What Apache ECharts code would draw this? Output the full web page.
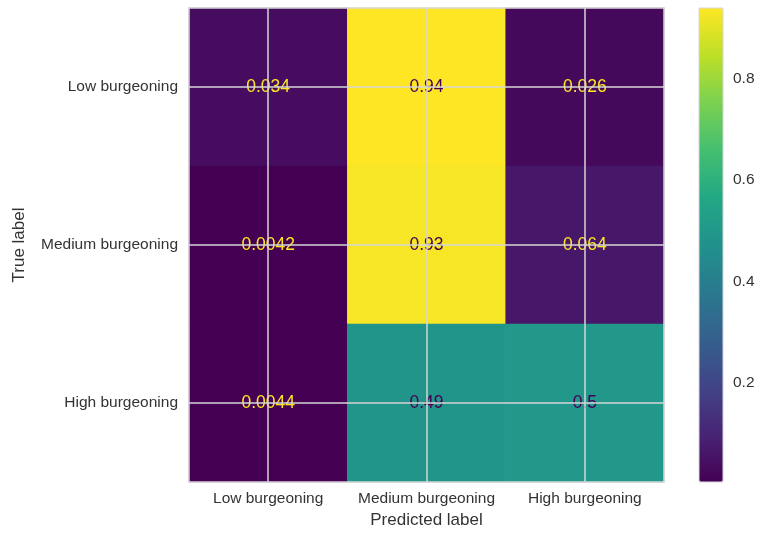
<!DOCTYPE html>
<html>
<head>
<meta charset="utf-8">
<title>Confusion matrix</title>
<script src="https://cdn.jsdelivr.net/npm/echarts@6/dist/echarts.min.js"></script>
<style>
  html, body { margin: 0; padding: 0; background: #ffffff; }
  #chart { width: 760px; height: 533px; }
</style>
</head>
<body>
<div id="chart"></div>
<script>
// Class names (predicted along x, true along y)
const classes = ['Low burgeoning', 'Medium burgeoning', 'High burgeoning'];

// Normalised confusion matrix, one array per true class
const rowLow    = [0.034, 0.94, 0.026];
const rowMedium = [0.0042, 0.93, 0.064];
const rowHigh   = [0.0044, 0.49, 0.5];

// Colour bar tick labels
const colorbarTicks = [0.2, 0.4, 0.6, 0.8];

// viridis colour map
const viridis = ['#440154', '#482475', '#414487', '#355f8d', '#2a788e',
                 '#21918c', '#22a884', '#44bf70', '#7ad151', '#bddf26', '#fde725'];

const rows = [rowLow, rowMedium, rowHigh];
const allValues = rows.flat();
const vMin = Math.min(...allValues);
const vMax = Math.max(...allValues);
const threshold = (vMin + vMax) / 2;

const fontFamily = '"Liberation Sans", Arial, Helvetica, sans-serif';

// light text on dark cells, dark text on bright cells
const cells = [];
rows.forEach((row, r) => {
  row.forEach((v, c) => {
    cells.push({
      value: [c, r, v],
      label: { color: v < threshold ? viridis[viridis.length - 1] : viridis[0] }
    });
  });
});

const chart = echarts.init(document.getElementById('chart'), null, { renderer: 'canvas' });

const gridColor = '#d6d6d6';
const textColor = '#333333';

chart.setOption({
  animation: false,
  backgroundColor: '#ffffff',
  textStyle: { fontFamily: fontFamily },
  grid: [
    { left: 189, top: 8, width: 475, height: 474, show: true, z: 5,
      outerBoundsMode: 'none', containLabel: false,
      backgroundColor: 'transparent', borderColor: gridColor, borderWidth: 1.5 },
    { left: 699, top: 8, width: 24, height: 474, show: true, z: 5,
      outerBoundsMode: 'none', containLabel: false,
      backgroundColor: 'transparent', borderColor: gridColor, borderWidth: 1 }
  ],
  xAxis: [
    {
      type: 'category', gridIndex: 0, data: classes,
      name: 'Predicted label', nameLocation: 'middle', nameGap: 30,
      nameTextStyle: { fontSize: 17, color: textColor, fontFamily: fontFamily },
      axisLine: { show: false }, axisTick: { show: false }, splitLine: { show: false },
      axisLabel: { interval: 0, hideOverlap: false, fontSize: 15.5, color: textColor,
                   margin: 9, fontFamily: fontFamily }
    },
    {
      type: 'value', gridIndex: 1, min: 0, max: 1, show: false
    }
  ],
  yAxis: [
    {
      type: 'category', gridIndex: 0, data: classes, inverse: true,
      name: 'True label', nameLocation: 'middle', nameGap: 161, nameRotate: 90,
      nameTextStyle: { fontSize: 17, color: textColor, fontFamily: fontFamily },
      axisLine: { show: false }, axisTick: { show: false }, splitLine: { show: false },
      axisLabel: { interval: 0, fontSize: 15.5, color: textColor, margin: 11, fontFamily: fontFamily }
    },
    {
      type: 'value', gridIndex: 1, position: 'right', min: vMin, max: vMax,
      axisLine: { show: false }, axisTick: { show: false }, splitLine: { show: false },
      axisLabel: {
        customValues: colorbarTicks, fontSize: 15.5, color: textColor, margin: 10,
        fontFamily: fontFamily,
        formatter: v => String(Math.round(v * 10) / 10)
      }
    }
  ],
  visualMap: {
    type: 'continuous',
    seriesIndex: 0,
    min: vMin, max: vMax,
    calculable: false,
    left: 699, top: 8,
    itemWidth: 24, itemHeight: 474,
    padding: 0,
    text: ['', ''],
    showLabel: false,
    hoverLink: false,
    inRange: { color: viridis }
  },
  series: [
    {
      type: 'heatmap',
      xAxisIndex: 0, yAxisIndex: 0,
      data: cells,
      label: {
        show: true, fontSize: 17.5, fontFamily: fontFamily,
        formatter: p => String(p.value[2])
      },
      itemStyle: { borderWidth: 0 },
      emphasis: { disabled: true },
      markLine: {
        silent: true, symbol: 'none', z: 3,
        label: { show: false },
        lineStyle: { color: gridColor, width: 1.5, type: 'solid' },
        data: classes.map(c => ({ xAxis: c })).concat(classes.map(c => ({ yAxis: c })))
      }
    }
  ]
});
</script>
</body>
</html>
